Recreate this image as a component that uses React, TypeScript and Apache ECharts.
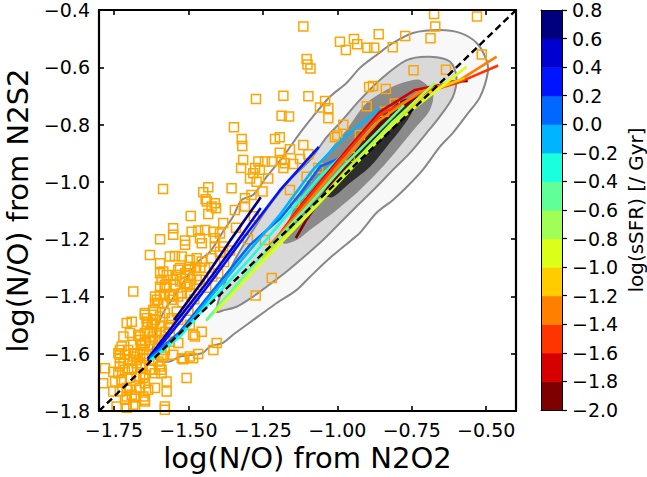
import React, { useEffect, useRef } from "react";
import * as echarts from "echarts";

const xTicks = [-1.75, -1.5, -1.25, -1.0, -0.75, -0.5];
const yTicks = [-1.8, -1.6, -1.4, -1.2, -1.0, -0.8, -0.6, -0.4];

const contourOuter = [[-1.634,-1.619],[-1.618,-1.575],[-1.606,-1.51],[-1.579,-1.447],[-1.551,-1.405],[-1.511,-1.342],[-1.472,-1.283],[-1.427,-1.244],[-1.384,-1.174],[-1.35,-1.121],[-1.321,-1.063],[-1.283,-1.046],[-1.237,-0.982],[-1.182,-0.912],[-1.125,-0.829],[-1.082,-0.772],[-1.025,-0.703],[-0.969,-0.655],[-0.924,-0.602],[-0.868,-0.557],[-0.813,-0.515],[-0.746,-0.48],[-0.656,-0.47],[-0.588,-0.48],[-0.532,-0.515],[-0.499,-0.575],[-0.495,-0.62],[-0.521,-0.704],[-0.566,-0.767],[-0.612,-0.829],[-0.656,-0.878],[-0.713,-0.958],[-0.767,-1.018],[-0.813,-1.063],[-0.868,-1.108],[-0.924,-1.178],[-0.952,-1.203],[-1.025,-1.266],[-1.092,-1.332],[-1.136,-1.377],[-1.203,-1.423],[-1.25,-1.458],[-1.304,-1.499],[-1.35,-1.534],[-1.384,-1.562],[-1.427,-1.575],[-1.451,-1.597],[-1.485,-1.604],[-1.528,-1.61],[-1.562,-1.627],[-1.602,-1.624],[-1.619,-1.61]];
const contourSecond = [[-1.405,-1.453],[-1.387,-1.377],[-1.344,-1.273],[-1.293,-1.185],[-1.226,-1.08],[-1.159,-0.993],[-1.092,-0.924],[-1.035,-0.843],[-0.991,-0.794],[-0.924,-0.714],[-0.857,-0.644],[-0.767,-0.575],[-0.689,-0.563],[-0.622,-0.58],[-0.6,-0.633],[-0.612,-0.703],[-0.656,-0.772],[-0.7,-0.829],[-0.756,-0.899],[-0.813,-0.958],[-0.868,-1.017],[-0.924,-1.074],[-0.981,-1.133],[-1.048,-1.203],[-1.092,-1.244],[-1.17,-1.313],[-1.237,-1.366],[-1.283,-1.401],[-1.338,-1.436],[-1.377,-1.447]];
const contourThird = [[-1.182,-1.213],[-1.142,-1.08],[-1.092,-0.993],[-1.025,-0.889],[-0.969,-0.819],[-0.902,-0.725],[-0.823,-0.672],[-0.767,-0.65],[-0.723,-0.644],[-0.679,-0.69],[-0.689,-0.749],[-0.734,-0.807],[-0.79,-0.877],[-0.857,-0.958],[-0.924,-1.028],[-1.002,-1.098],[-1.092,-1.168],[-1.136,-1.203]];
const contourInner = [[-1.042,-1.046],[-0.991,-0.958],[-0.924,-0.871],[-0.857,-0.777],[-0.807,-0.732],[-0.773,-0.711],[-0.75,-0.714],[-0.746,-0.749],[-0.78,-0.807],[-0.834,-0.877],[-0.89,-0.947],[-0.958,-1.004],[-1.015,-1.053]];

const squares = [[-0.675,-0.414],[-0.531,-0.423],[-0.671,-0.458],[-0.687,-0.499],[-0.772,-0.491],[-0.861,-0.485],[-0.814,-0.53],[-0.944,-0.501],[-0.933,-0.52],[-0.991,-0.511],[-0.971,-0.54],[-0.899,-0.532],[-0.876,-0.532],[-1.114,-0.458],[-1.103,-0.571],[-1.1,-0.59],[-1.09,-0.604],[-0.515,-0.555],[-0.744,-0.61],[-0.635,-0.609],[-0.88,-0.665],[-0.893,-0.669],[-0.837,-0.676],[-1.181,-0.699],[-1.097,-0.701],[-1.041,-0.718],[-1.058,-0.74],[-1.03,-0.743],[-1.03,-0.778],[-0.901,-0.736],[-0.807,-0.726],[-0.842,-0.755],[-1.187,-0.769],[-1.162,-0.772],[-0.98,-0.801],[-1.0,-0.838],[-1.008,-0.844],[-1.193,-0.844],[-1.114,-0.871],[-1.159,-0.886],[-1.187,-0.924],[-1.176,-0.935],[-1.181,-0.952],[-1.148,-0.938],[-1.125,-0.92],[-1.097,-0.904],[-1.064,-0.952],[-1.159,-1.028],[-1.103,-0.982],[-1.142,-1.074],[-1.115,-1.069],[-0.924,-0.836],[-0.958,-0.912],[-1.273,-0.711],[-1.347,-0.809],[-1.321,-0.85],[-1.319,-0.875],[-1.209,-0.85],[-1.193,-0.898],[-1.316,-0.924],[-1.323,-0.952],[-1.265,-0.929],[-1.243,-0.929],[-1.22,-0.929],[-1.276,-0.952],[-1.26,-0.958],[-1.282,-0.97],[-1.232,-0.988],[-1.293,-0.988],[-1.271,-1.0],[-1.355,-1.022],[-1.433,-1.019],[-1.45,-1.036],[-1.442,-1.061],[-1.411,-1.075],[-1.407,-1.092],[-1.422,-1.086],[-1.433,-1.112],[-1.492,-1.119],[-1.344,-1.098],[-1.31,-1.086],[-1.31,-1.057],[-1.288,-1.046],[-1.251,-1.034],[-1.383,-1.144],[-1.467,-1.17],[-1.444,-1.168],[-1.416,-1.174],[-1.461,-1.197],[-1.551,-1.162],[-1.551,-1.185],[-1.511,-1.205],[-1.511,-1.22],[-1.455,-1.214],[-1.411,-1.226],[-1.383,-1.226],[-1.545,-1.259],[-1.522,-1.261],[-1.495,-1.273],[-1.472,-1.267],[-1.455,-1.278],[-1.394,-1.244],[-1.422,-1.267],[-1.528,-1.301],[-1.5,-1.307],[-1.478,-1.301],[-1.444,-1.301],[-1.539,-1.325],[-1.22,-1.336],[-1.243,-1.203],[-1.585,-1.025],[-1.438,-1.069],[-1.595,-1.2],[-1.629,-1.255],[-1.562,-1.261],[-1.595,-1.284],[-1.584,-1.313],[-1.573,-1.325],[-1.534,-1.307],[-1.59,-1.342],[-1.579,-1.371],[-1.551,-1.342],[-1.528,-1.348],[-1.495,-1.325],[-1.472,-1.342],[-1.685,-1.383],[-1.612,-1.4],[-1.606,-1.412],[-1.595,-1.395],[-1.612,-1.423],[-1.601,-1.423],[-1.573,-1.366],[-1.545,-1.36],[-1.511,-1.354],[-1.534,-1.4],[-1.556,-1.412],[-1.495,-1.389],[-1.472,-1.36],[-1.646,-1.458],[-1.64,-1.476],[-1.618,-1.464],[-1.612,-1.482],[-1.595,-1.47],[-1.579,-1.458],[-1.556,-1.476],[-1.539,-1.453],[-1.707,-1.493],[-1.69,-1.488],[-1.618,-1.499],[-1.595,-1.505],[-1.567,-1.511],[-1.534,-1.482],[-1.696,-1.528],[-1.718,-1.54],[-1.668,-1.534],[-1.646,-1.528],[-1.629,-1.523],[-1.606,-1.528],[-1.579,-1.523],[-1.562,-1.528],[-1.495,-1.499],[-1.484,-1.534],[-1.455,-1.523],[-1.405,-1.563],[-1.416,-1.587],[-1.467,-1.601],[-1.484,-1.616],[-1.517,-1.619],[-1.274,-1.397],[-1.662,-1.552],[-1.685,-1.569],[-1.646,-1.563],[-1.629,-1.575],[-1.724,-1.575],[-1.735,-1.598],[-1.702,-1.587],[-1.679,-1.598],[-1.651,-1.587],[-1.612,-1.552],[-1.59,-1.552],[-1.562,-1.558],[-1.534,-1.563],[-1.579,-1.587],[-1.551,-1.604],[-1.59,-1.604],[-1.73,-1.615],[-1.718,-1.633],[-1.696,-1.622],[-1.674,-1.622],[-1.651,-1.615],[-1.78,-1.651],[-1.752,-1.663],[-1.735,-1.668],[-1.713,-1.656],[-1.69,-1.656],[-1.662,-1.645],[-1.623,-1.656],[-1.59,-1.656],[-1.786,-1.703],[-1.746,-1.697],[-1.724,-1.697],[-1.696,-1.685],[-1.674,-1.68],[-1.646,-1.674],[-1.612,-1.668],[-1.573,-1.697],[-1.573,-1.732],[-1.612,-1.72],[-1.506,-1.685],[-1.752,-1.732],[-1.707,-1.72],[-1.674,-1.726],[-1.69,-1.743],[-1.679,-1.749],[-1.651,-1.749],[-1.646,-1.767],[-1.713,-1.761],[-1.679,-1.784],[-1.579,-1.796],[-1.707,-1.789],[-1.64,-1.6],[-1.62,-1.62],[-1.6,-1.58],[-1.66,-1.57],[-1.58,-1.55],[-1.62,-1.54],[-1.64,-1.5],[-1.56,-1.5],[-1.5,-1.45],[-1.52,-1.42],[-1.48,-1.41],[-1.44,-1.37],[-1.4,-1.32],[-1.38,-1.28],[-1.36,-1.24],[-1.42,-1.33],[-1.46,-1.3],[-1.3,-1.2],[-1.34,-1.16],[-1.28,-1.12],[-1.646,-1.464],[-1.636,-1.488],[-1.623,-1.493],[-1.662,-1.54],[-1.657,-1.569],[-1.629,-1.552],[-1.73,-1.587],[-1.73,-1.604],[-1.713,-1.604],[-1.685,-1.61],[-1.662,-1.604],[-1.646,-1.616],[-1.73,-1.645],[-1.702,-1.651],[-1.674,-1.633],[-1.657,-1.639],[-1.724,-1.691],[-1.662,-1.68],[-1.629,-1.656],[-1.595,-1.645],[-1.59,-1.668],[-1.651,-1.685],[-1.646,-1.703],[-1.73,-1.732],[-1.696,-1.726],[-1.707,-1.749],[-1.646,-1.761],[-1.741,-1.784],[-1.685,-1.778],[-1.579,-1.784],[-1.635,-1.726],[-1.662,-1.72],[-1.601,-1.575],[-1.584,-1.61],[-1.601,-1.627],[-1.478,-1.54],[-1.495,-1.61],[-1.522,-1.616],[-1.618,-1.447],[-1.584,-1.423],[-1.562,-1.4],[-1.489,-1.174],[-1.394,-1.18],[-1.411,-1.197],[-1.595,-1.319],[-1.511,-1.319],[-1.495,-1.296],[-1.579,-1.36],[-1.495,-1.36],[-1.461,-1.342],[-1.595,-1.366],[-1.579,-1.395],[-1.522,-1.389],[-1.506,-1.366],[-1.551,-1.395]];

const diagonal = [[-1.8, -1.8], [-0.4, -0.4]];

const binLow = [-2.0,-1.8,-1.6,-1.4,-1.2,-1.0,-0.8,-0.6,-0.4,-0.2,0.0,0.2,0.4,0.6];
const binColors = ["#7f0000","#d60000","#ff3500","#ff7f00","#ffcc00","#dcff1a","#a0ff56","#60ff97","#1affdd","#00b4ff","#0068ff","#0014ff","#0000d0","#00007f"];

const lineM19 = [[-1.139,-1.196],[-1.104,-1.133],[-1.025,-1.011],[-0.857,-0.801],[-0.723,-0.697],[-0.622,-0.651],[-0.562,-0.648]];
const lineM17 = [[-1.193,-1.182],[-1.115,-1.074],[-1.002,-0.931],[-0.857,-0.756],[-0.739,-0.679],[-0.656,-0.662]];
const lineM15 = [[-1.226,-1.227],[-1.125,-1.091],[-0.991,-0.924],[-0.857,-0.766],[-0.723,-0.693],[-0.588,-0.651],[-0.46,-0.594]];
const lineM13 = [[-1.226,-1.22],[-1.125,-1.105],[-0.991,-0.938],[-0.857,-0.784],[-0.723,-0.686],[-0.588,-0.644],[-0.465,-0.563]];
const lineM11 = [[-1.253,-1.266],[-1.125,-1.14],[-0.975,-0.965],[-0.813,-0.791],[-0.689,-0.686],[-0.572,-0.637]];
const lineM09 = [[-1.411,-1.454],[-1.271,-1.3],[-1.092,-1.108],[-0.975,-0.979],[-0.813,-0.801],[-0.566,-0.598]];
const lineM07 = [[-1.441,-1.485],[-1.271,-1.296],[-1.092,-1.102],[-0.991,-0.986],[-0.813,-0.791],[-0.672,-0.654]];
const lineM05 = [[-1.439,-1.482],[-1.273,-1.28],[-1.092,-1.077],[-0.975,-0.941],[-0.776,-0.732]];
const lineM03 = [[-1.629,-1.625],[-1.528,-1.54],[-1.411,-1.401],[-1.293,-1.268],[-1.193,-1.146],[-1.058,-0.982],[-0.868,-0.793]];
const lineM01 = [[-1.629,-1.622],[-1.528,-1.53],[-1.411,-1.384],[-1.293,-1.238],[-1.193,-1.115],[-1.082,-0.958],[-0.986,-0.854],[-0.857,-0.742]];
const lineP01 = [[-1.629,-1.615],[-1.528,-1.523],[-1.411,-1.371],[-1.293,-1.22],[-1.193,-1.129],[-1.125,-1.042],[-1.058,-0.947],[-0.964,-0.905]];
const lineP03 = [[-1.636,-1.625],[-1.528,-1.489],[-1.427,-1.353],[-1.327,-1.213],[-1.193,-1.03],[-1.062,-0.878]];
const lineP05 = [[-1.636,-1.618],[-1.542,-1.489],[-1.444,-1.36],[-1.344,-1.22],[-1.257,-1.091]];
const lineP07 = [[-1.548,-1.482],[-1.444,-1.335],[-1.36,-1.206],[-1.257,-1.054]];
// Same order as binColors.
const binLines = [lineM19,lineM17,lineM15,lineM13,lineM11,lineM09,lineM07,lineM05,lineM03,lineM01,lineP01,lineP03,lineP05,lineP07];
// Order of drawing, last on top.
const drawOrder = [13,12,11,10,9,8,0,1,2,3,4,6,7,5];

const FONT = "DejaVu Sans";
const minus = (s: string) => s.replace("-", "\u2212");

function contourSeries(points: number[][], fill: string, stroke: string | null, z: number) {
  return {
    type: "custom",
    xAxisIndex: 0,
    yAxisIndex: 0,
    z,
    silent: true,
    data: [0],
    renderItem: (_p: any, api: any) => ({
      type: "polygon",
      shape: { points: points.map((q) => api.coord(q)), smooth: 0.3 },
      style: { fill, stroke: stroke ?? "none", lineWidth: stroke ? 2 : 0 },
    }),
  };
}

export default function App() {
  const ref = useRef<HTMLDivElement>(null);
  useEffect(() => {
    const chart = echarts.init(ref.current!, undefined, { renderer: "svg" });
    const frame = { show: true, onZero: false, lineStyle: { color: "#000", width: 2.2 } };
    const thin = { show: true, onZero: false, lineStyle: { color: "#000", width: 1 } };
    const tickStyle = { color: "#000", width: 1.6 };
    chart.setOption({
      animation: false,
      backgroundColor: "#fff",
      grid: [
        { left: 99, top: 10, width: 417, height: 401, outerBoundsMode: "none" },
        { left: 541, top: 10, width: 21, height: 400, outerBoundsMode: "none" },
      ],
      xAxis: [
        {
          gridIndex: 0, type: "value", min: -1.8, max: -0.4, position: "bottom", z: 6,
          axisLine: frame, splitLine: { show: false },
          axisTick: { show: true, inside: true, length: 5, lineStyle: tickStyle, customValues: xTicks },
          axisLabel: { color: "#000", fontFamily: FONT, fontSize: 19, margin: 9, customValues: xTicks, formatter: (v: number) => minus(v.toFixed(2)) },
          name: "log(N/O) from N2O2", nameLocation: "middle", nameGap: 30,
          nameTextStyle: { color: "#000", fontFamily: FONT, fontSize: 29 },
        },
        {
          gridIndex: 0, type: "value", min: -1.8, max: -0.4, position: "top", z: 6,
          axisLine: frame, splitLine: { show: false },
          axisTick: { show: true, inside: true, length: 5, lineStyle: tickStyle, customValues: xTicks },
          axisLabel: { show: false },
        },
        {
          gridIndex: 1, type: "value", min: 0, max: 1, position: "bottom", z: 6,
          axisLine: thin, axisTick: { show: false }, axisLabel: { show: false }, splitLine: { show: false },
        },
        {
          gridIndex: 1, type: "value", min: 0, max: 1, position: "top", z: 6,
          axisLine: thin, axisTick: { show: false }, axisLabel: { show: false }, splitLine: { show: false },
        },
      ],
      yAxis: [
        {
          gridIndex: 0, type: "value", min: -1.8, max: -0.4, position: "left", z: 6,
          axisLine: frame, splitLine: { show: false },
          axisTick: { show: true, inside: true, length: 5, lineStyle: tickStyle, customValues: yTicks },
          axisLabel: { color: "#000", fontFamily: FONT, fontSize: 19, margin: 9, customValues: yTicks, formatter: (v: number) => minus(v.toFixed(1)) },
          name: "log(N/O) from N2S2", nameLocation: "middle", nameGap: 63,
          nameTextStyle: { color: "#000", fontFamily: FONT, fontSize: 29 },
        },
        {
          gridIndex: 0, type: "value", min: -1.8, max: -0.4, position: "right", z: 6,
          axisLine: frame, splitLine: { show: false },
          axisTick: { show: true, inside: true, length: 5, lineStyle: tickStyle, customValues: yTicks },
          axisLabel: { show: false },
        },
        {
          gridIndex: 1, type: "value", min: -2, max: 0.8, interval: 0.2, position: "right", z: 6,
          axisLine: thin, splitLine: { show: false },
          axisTick: { show: true, inside: false, length: 5, lineStyle: { color: "#000", width: 1.2 } },
          axisLabel: { color: "#000", fontFamily: FONT, fontSize: 19, margin: 10, align: "left", formatter: (v: number) => minus(v.toFixed(1)) },
          name: "log(sSFR) [/ Gyr]", nameLocation: "middle", nameGap: 64, nameRotate: 90,
          nameTextStyle: { color: "#000", fontFamily: FONT, fontSize: 20 },
        },
        {
          gridIndex: 1, type: "value", min: -2, max: 0.8, position: "left", z: 6,
          axisLine: thin, axisTick: { show: false }, axisLabel: { show: false }, splitLine: { show: false },
        },
      ],
      series: [
        contourSeries(contourOuter, "#f8f8f8", "#888888", 2),
        contourSeries(contourSecond, "#d9d9d9", "#888888", 2),
        contourSeries(contourThird, "#8a8a8a", null, 2),
        contourSeries(contourInner, "#2d2d2d", null, 2),
        {
          type: "scatter", xAxisIndex: 0, yAxisIndex: 0, z: 3, silent: true,
          symbol: "rect", symbolSize: 9,
          itemStyle: { color: "rgba(0,0,0,0)", borderColor: "#ffa500", borderWidth: 1.5, opacity: 1 },
          data: squares,
        },
        ...drawOrder.map((i) => ({
          type: "line", xAxisIndex: 0, yAxisIndex: 0, z: 4, silent: true,
          symbol: "none", data: binLines[i],
          lineStyle: { color: binColors[i], width: 2.6 },
        })),
        {
          type: "line", xAxisIndex: 0, yAxisIndex: 0, z: 5, silent: true,
          symbol: "none", data: diagonal,
          lineStyle: { color: "#000", width: 2.4, type: [7, 4] },
        },
        {
          type: "custom", xAxisIndex: 2, yAxisIndex: 2, z: 2, silent: true,
          data: binLow.map((v, i) => [0, v, i]),
          encode: { x: 0, y: 1 },
          renderItem: (_p: any, api: any) => {
            const low = api.value(1);
            const a = api.coord([0, low]);
            const b = api.coord([1, low + 0.2]);
            return {
              type: "rect",
              shape: { x: a[0], y: b[1], width: b[0] - a[0], height: a[1] - b[1] + 0.5 },
              style: { fill: binColors[api.value(2)] },
            };
          },
        },
      ],
    });
    return () => chart.dispose();
  }, []);
  return <div ref={ref} style={{ position: "fixed", left: 0, top: 0, width: 647, height: 477 }} />;
}
